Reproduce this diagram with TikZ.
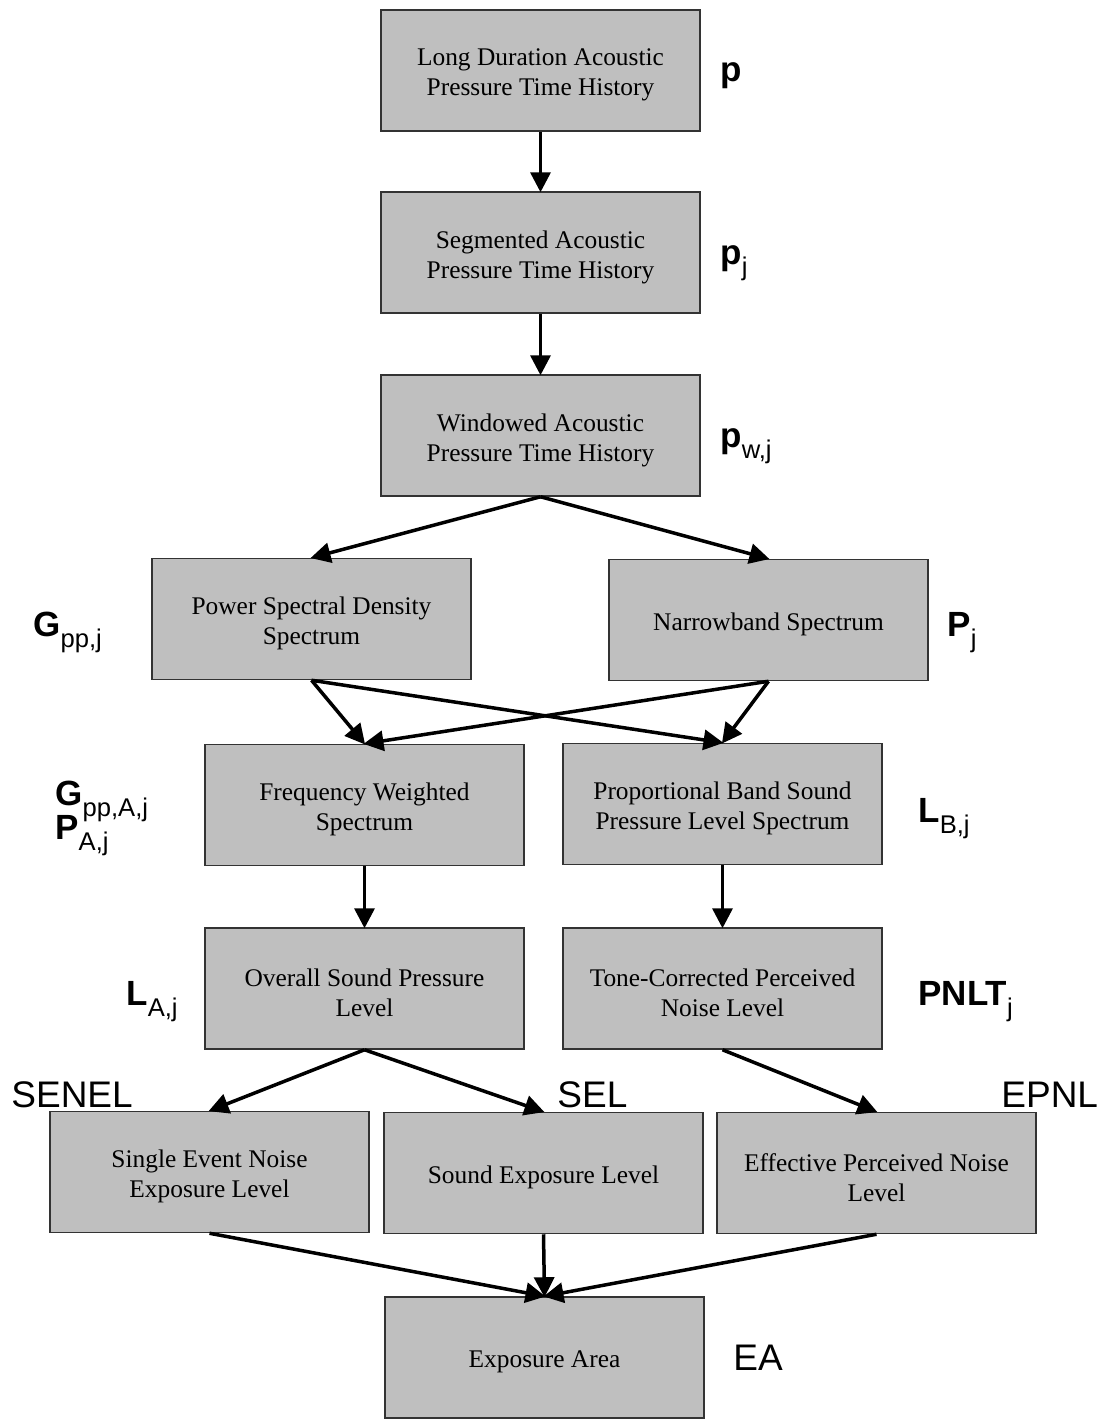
\documentclass[tikz,border=0pt]{standalone}
\usepackage{fontspec}
\setmainfont{Liberation Serif}
\newfontfamily\arialf{Liberation Sans}
\usetikzlibrary{arrows.meta}
\newcommand\symlbl[2]{{\arialf\fontsize{17.5}{19}\selectfont\bfseries #1}\raisebox{-5.5pt}{\arialf\fontsize{12.8}{13}\selectfont #2}}
\newcommand\bx[3]{\node[box] (#1) at (#2) {};
  \node[boxtext] (#1-t) at ([yshift=-2.3pt]#1.center) {#3};}
\begin{document}
\begin{tikzpicture}[x=0.5pt,y=-0.5pt,
  box/.style={draw=black!80, line width=0.75pt, fill=black!25, minimum width=159.5pt, minimum height=60.5pt,
    inner sep=0pt},
  boxtext/.style={align=center, inner sep=0pt, font=\fontsize{12.7}{15}\selectfont},
  arr/.style={line width=1.75pt, -{Triangle[length=10pt,width=10pt]}, shorten >=-0.5pt},
  sym/.style={anchor=base west, inner sep=0pt},
  plain/.style={anchor=base west, inner sep=0pt, font=\arialf\fontsize{18.5}{20}\selectfont}]
\useasboundingbox (0,0) rectangle (1106,1419);
% boxes
\bx{b1}{540.5,70.5}{Long Duration Acoustic\\Pressure Time History}
\bx{b2}{540.5,252.5}{Segmented Acoustic\\Pressure Time History}
\bx{b3}{540.5,435.5}{Windowed Acoustic\\Pressure Time History}
\bx{psd}{311.5,619}{Power Spectral Density\\Spectrum}
\bx{nb}{768.5,620}{Narrowband Spectrum}
\bx{fw}{364.5,805}{Frequency Weighted\\Spectrum}
\bx{pb}{722.5,804}{Proportional Band Sound\\Pressure Level Spectrum}
\bx{os}{364.5,988.5}{Overall Sound Pressure\\Level}
\bx{tc}{722.5,988.5}{Tone-Corrected Perceived\\Noise Level}
\bx{se}{209.5,1172}{Single Event Noise\\Exposure Level}
\bx{sl}{543.5,1173}{Sound Exposure Level}
\bx{ep}{876.5,1173}{Effective Perceived Noise\\Level}
\bx{ea}{544.5,1357.5}{Exposure Area}
% arrows
\draw[arr] (b1.south) -- (b2.north);
\draw[arr] (b2.south) -- (b3.north);
\draw[arr] (b3.south) -- (psd.north);
\draw[arr] (b3.south) -- (nb.north);
\draw[arr] (psd.south) -- (fw.north);
\draw[arr] (psd.south) -- (pb.north);
\draw[arr] (nb.south) -- (fw.north);
\draw[arr] (nb.south) -- (pb.north);
\draw[arr] (fw.south) -- (os.north);
\draw[arr] (pb.south) -- (tc.north);
\draw[arr] (os.south) -- (se.north);
\draw[arr] (os.south) -- (sl.north);
\draw[arr] (tc.south) -- (ep.north);
\draw[arr] (se.south) -- (ea.north);
\draw[arr] (sl.south) -- (ea.north);
\draw[arr] (ep.south) -- (ea.north);
% symbol labels
\node[sym] (lp) at (720,81) {\symlbl{p}{}};
\node[sym] (lpj) at (720,264) {\symlbl{p}{j}};
\node[sym] (lpw) at (720,447) {\symlbl{p}{w,j}};
\node[sym] (lg) at (33,636) {\symlbl{G}{pp,j}};
\node[sym] (lP) at (947,636) {\symlbl{P}{j}};
\node[sym] (lga) at (55,805) {\symlbl{G}{pp,A,j}};
\node[sym] (lpa) at (55,839) {\symlbl{P}{A,j}};
\node[sym] (llb) at (918,822) {\symlbl{L}{B,j}};
\node[sym] (lla) at (126,1005) {\symlbl{L}{A,j}};
\node[sym] (lpn) at (918,1005) {\symlbl{PNLT}{j}};
\node[plain] (lsenel) at (11,1107) {SENEL};
\node[plain] (lsel) at (557,1107) {SEL};
\node[plain] (lepnl) at (1001,1107) {EPNL};
\node[plain] (lea) at (733,1370) {EA};
\end{tikzpicture}
\end{document}
